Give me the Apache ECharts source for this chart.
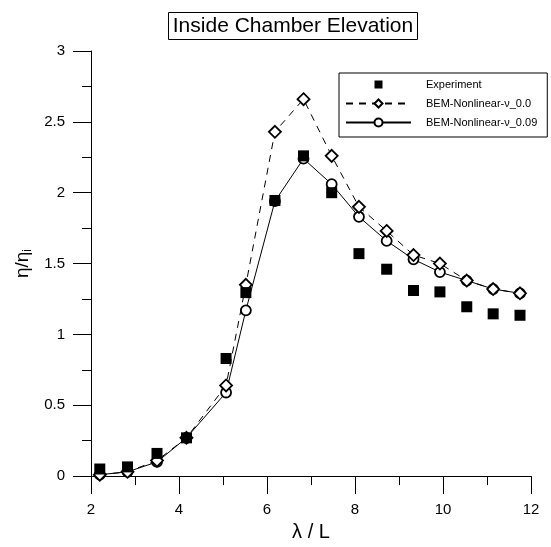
<!DOCTYPE html>
<html>
<head>
<meta charset="utf-8">
<script src="https://cdn.jsdelivr.net/npm/echarts@6/dist/echarts.min.js"></script>
<style>html,body{margin:0;padding:0;background:#fff}#c{width:551px;height:547px}</style>
</head>
<body>
<div id="c"></div>
<script>
const lambdaL = [2.2, 2.83, 3.5, 4.17, 5.07, 5.52, 6.18, 6.83, 7.47, 8.09, 8.72, 9.33, 9.93, 10.54, 11.14, 11.75];
const experiment = [0.05, 0.065, 0.16, 0.27, 0.83, 1.295, 1.945, 2.26, 2.0, 1.57, 1.46, 1.31, 1.30, 1.195, 1.145, 1.135];
const bem00 = [0.01, 0.03, 0.11, 0.27, 0.64, 1.35, 2.43, 2.66, 2.26, 1.90, 1.73, 1.56, 1.50, 1.38, 1.32, 1.29];
const bem009 = [0.01, 0.03, 0.10, 0.27, 0.59, 1.17, 1.94, 2.24, 2.06, 1.83, 1.66, 1.53, 1.44, 1.38, 1.32, 1.29];
const xTicks = [2, 4, 6, 8, 10, 12];
const yTicks = [0, 0.5, 1, 1.5, 2, 2.5, 3];

const pair = (ys) => lambdaL.map((x, i) => [x, ys[i]]);
const font = '"Liberation Sans", Arial, sans-serif';
const chart = echarts.init(document.getElementById('c'), null, {renderer: 'canvas'});
chart.setOption({
  animation: false,
  backgroundColor: '#fff',
  title: {
    text: 'Inside Chamber Elevation',
    left: 288, top: 12, textAlign: 'center',
    borderColor: '#000', borderWidth: 1, padding: [4, 5, 3, 5],
    textStyle: {fontFamily: font, fontSize: 21, fontWeight: 'normal', color: '#000'}
  },
  legend: {
    orient: 'vertical', left: 339, top: 73,
    backgroundColor: '#fff', borderColor: '#000', borderWidth: 1,
    padding: [6, 10, 9, 6], itemGap: 8, itemWidth: 65, itemHeight: 10,
    textStyle: {fontFamily: font, fontSize: 11, color: '#000', padding: [0, 0, 0, 10]},
    data: ['Experiment', 'BEM-Nonlinear-ν_0.0', 'BEM-Nonlinear-ν_0.09']
  },
  grid: {left: 91, right: 20, top: 51, bottom: 65, containLabel: false},
  xAxis: {
    type: 'value', min: 2, max: 12, interval: 2,
    name: 'λ / L', nameLocation: 'middle', nameGap: 38,
    nameTextStyle: {fontFamily: font, fontSize: 20, color: '#000'},
    axisLine: {onZero: false, lineStyle: {color: '#000', width: 1}},
    axisTick: {show: true, length: 18, lineStyle: {color: '#000', width: 1}},
    minorTick: {show: true, splitNumber: 2, length: 9, lineStyle: {color: '#000', width: 1}},
    splitLine: {show: false},
    axisLabel: {fontFamily: font, fontSize: 15, color: '#000', margin: 26,
      formatter: (v) => xTicks.includes(v) ? String(v) : ''}
  },
  yAxis: {
    type: 'value', min: 0, max: 3, interval: 0.5,
    name: '{a|η/η}{b|i}', nameLocation: 'middle', nameGap: 50,
    nameTextStyle: {fontFamily: font, color: '#000',
      rich: {a: {fontFamily: font, fontSize: 19, color: '#000'},
             b: {fontFamily: font, fontSize: 12, color: '#000', padding: [8, 0, 0, 0]}}},
    axisLine: {onZero: false, lineStyle: {color: '#000', width: 1}},
    axisTick: {show: true, length: 18, lineStyle: {color: '#000', width: 1}},
    minorTick: {show: true, splitNumber: 2, length: 9, lineStyle: {color: '#000', width: 1}},
    splitLine: {show: false},
    axisLabel: {fontFamily: font, fontSize: 15, color: '#000', margin: 26,
      formatter: (v) => yTicks.includes(v) ? String(v) : ''}
  },
  series: [
    {
      name: 'BEM-Nonlinear-ν_0.09', type: 'line', data: pair(bem009), z: 2,
      symbol: 'circle', symbolSize: 10,
      lineStyle: {color: '#000', width: 1, type: 'solid'},
      itemStyle: {color: '#fff', borderColor: '#000', borderWidth: 1.8}
    },
    {
      name: 'BEM-Nonlinear-ν_0.0', type: 'line', data: pair(bem00), z: 3,
      symbol: 'diamond', symbolSize: 12,
      lineStyle: {color: '#000', width: 1, type: [7, 6]},
      itemStyle: {color: '#fff', borderColor: '#000', borderWidth: 1.8}
    },
    {
      name: 'Experiment', type: 'line', data: pair(experiment), z: 4,
      symbol: 'rect', symbolSize: 11,
      lineStyle: {width: 0, opacity: 0},
      itemStyle: {color: '#000', borderWidth: 0, opacity: 1}
    }
  ]
});
</script>
</body>
</html>
